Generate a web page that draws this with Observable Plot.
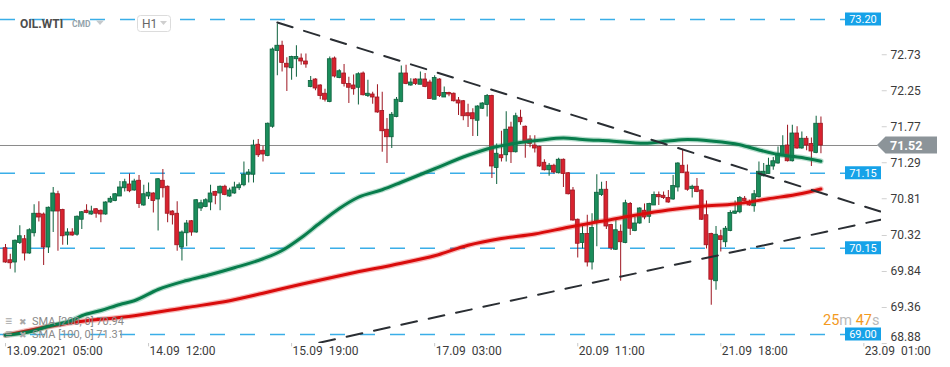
<!DOCTYPE html>
<html><head><meta charset="utf-8">
<script src="https://cdn.jsdelivr.net/npm/d3@7"></script>
<script src="https://cdn.jsdelivr.net/npm/@observablehq/plot@0.6"></script>
<style>
html,body{margin:0;padding:0;background:#fff;}
#chart{width:950px;height:367px;overflow:hidden;}
svg{font-family:Roboto,"Noto Sans",sans-serif;}
svg text{white-space:pre;}
</style></head><body><div id="chart"></div>
<script>
// ---- data ----
const symbolName = "OIL.WTI";
const symbolType = "CMD";
const interval = "H1";
const xTickIdx = [0, 30, 60, 90, 120, 150, 180];
const xTickLabels = ["13.09.2021  05:00", "14.09  12:00", "15.09  19:00", "17.09  03:00", "20.09  11:00", "21.09  18:00", "23.09  01:00"];
const yTicks = [72.73, 72.25, 71.77, 71.29, 70.81, 70.32, 69.84, 69.36, 68.88];

const opens = [70.15,69.99,69.96,70.22,70.27,70.08,70.35,70.61,70.60,70.16,
70.64,70.87,70.66,70.32,70.36,70.33,70.53,70.65,70.60,70.67,
70.65,70.60,70.76,70.78,70.84,70.95,71.00,70.92,71.05,70.72,
70.84,70.88,70.80,71.05,70.97,70.64,70.61,70.16,70.35,70.51,
70.36,70.68,70.70,70.76,70.90,70.88,70.97,70.84,70.88,70.95,
70.99,71.13,71.13,71.53,71.45,71.38,71.77,72.78,72.85,72.61,
72.55,72.67,72.68,72.64,72.30,72.40,72.32,72.21,72.10,72.68,
72.42,72.48,72.34,72.32,72.29,72.48,72.18,72.20,72.16,71.98,
71.73,71.63,71.90,72.10,72.48,72.32,72.40,72.33,72.40,72.36,
72.13,72.40,72.16,72.22,72.21,72.12,72.11,71.95,71.95,71.85,
72.01,72.06,72.18,71.22,71.39,71.39,71.76,71.43,71.89,71.77,
71.60,71.52,71.50,71.29,71.19,71.25,71.15,71.33,71.15,70.92,
70.53,70.22,70.34,69.96,70.51,70.86,70.93,70.46,70.13,70.37,
70.22,70.74,70.38,70.48,70.65,70.57,70.72,70.86,70.85,70.82,
70.80,70.96,71.25,71.16,70.94,70.97,70.92,70.59,70.34,69.71,
70.31,70.23,70.38,70.61,70.63,70.81,70.76,70.71,70.83,71.11,
71.14,71.24,71.28,71.39,71.52,71.31,71.68,71.48,71.61,71.54,
71.42,71.81];
const highs = [70.20,70.07,70.26,70.45,70.32,70.41,70.73,70.77,70.62,70.70,
70.96,70.91,70.67,70.41,70.41,70.58,70.64,70.73,70.71,70.68,
70.66,70.77,70.84,70.88,71.04,71.07,71.14,71.07,71.12,70.99,
71.02,70.89,71.08,71.20,70.98,70.65,70.77,70.38,70.52,70.52,
70.80,70.79,70.81,70.99,70.91,70.98,70.99,70.95,71.03,71.02,
71.30,71.20,71.59,71.60,71.51,71.82,72.82,73.14,72.91,72.69,
72.71,72.85,72.74,72.74,72.44,72.41,72.33,72.27,72.70,72.70,
72.53,72.60,72.43,72.46,72.49,72.50,72.39,72.23,72.33,72.23,
71.88,71.96,72.16,72.58,72.59,72.41,72.41,72.50,72.48,72.39,
72.45,72.41,72.30,72.23,72.22,72.16,72.12,72.07,72.01,72.05,
72.09,72.20,72.19,71.54,71.71,71.97,71.83,71.95,71.99,71.78,
71.65,71.65,71.51,71.33,71.28,71.27,71.35,71.34,71.16,70.96,
70.54,70.45,70.59,70.61,71.13,71.03,71.04,70.47,70.54,70.46,
70.79,70.76,70.56,70.69,70.74,70.75,70.90,70.90,70.90,70.92,
71.12,71.29,71.46,71.26,70.99,71.08,70.93,70.78,70.35,70.44,
70.39,70.44,70.65,70.78,70.84,70.84,70.79,70.92,71.30,71.28,
71.35,71.36,71.50,71.65,71.79,71.79,71.77,71.70,71.64,71.62,
71.91,71.90];
const lows = [69.95,69.87,69.82,70.20,69.98,70.07,70.30,70.50,69.92,70.08,
70.36,70.11,70.19,70.19,70.31,70.31,70.40,70.61,70.59,70.55,
70.49,70.59,70.75,70.77,70.84,70.90,70.89,70.91,70.68,70.71,
70.80,70.62,70.38,70.82,70.49,70.46,70.11,69.98,70.17,70.31,
70.35,70.64,70.69,70.65,70.73,70.65,70.85,70.83,70.87,70.92,
70.97,71.02,71.02,71.36,71.30,71.37,71.75,72.45,72.50,72.24,
72.39,72.43,72.59,72.55,72.29,72.25,72.13,72.10,72.09,72.42,
72.41,72.30,72.08,72.19,72.06,72.18,72.16,72.07,71.95,71.43,
71.28,71.48,71.89,72.09,72.33,72.31,72.32,72.33,72.29,72.14,
72.13,72.16,72.16,72.17,72.10,71.92,71.85,71.76,71.64,71.64,
72.00,71.90,71.08,71.00,71.30,71.30,71.28,71.42,71.79,71.35,
71.49,71.42,71.23,71.18,71.11,71.14,71.14,70.96,70.86,70.51,
70.02,70.14,69.90,69.86,70.17,70.84,70.40,70.12,70.12,69.71,
70.21,70.32,70.37,70.47,70.53,70.48,70.72,70.72,70.80,70.75,
70.79,70.90,71.15,70.91,70.82,70.89,70.52,70.14,69.39,69.59,
70.10,70.16,70.37,70.60,70.61,70.77,70.71,70.63,70.82,71.10,
71.14,71.19,71.27,71.38,71.30,71.30,71.47,71.47,71.45,71.24,
71.41,71.41];
const closes = [69.96,69.95,70.25,70.31,70.08,70.39,70.61,70.56,70.16,70.69,
70.88,70.64,70.31,70.36,70.32,70.57,70.63,70.62,70.64,70.61,
70.60,70.76,70.81,70.87,70.96,71.03,70.91,71.04,70.74,70.87,
70.89,70.78,71.07,70.95,70.61,70.59,70.19,70.36,70.48,70.36,
70.79,70.75,70.79,70.88,70.85,70.97,70.86,70.92,70.96,70.99,
71.13,71.16,71.52,71.39,71.40,71.81,72.80,72.85,72.62,72.56,
72.70,72.70,72.64,72.60,72.38,72.28,72.18,72.13,72.67,72.44,
72.51,72.34,72.29,72.27,72.47,72.19,72.21,72.16,71.96,71.71,
71.63,71.93,72.13,72.48,72.34,72.36,72.34,72.40,72.30,72.14,
72.42,72.18,72.22,72.20,72.11,72.08,71.91,71.91,71.87,72.04,
72.08,72.18,71.24,71.41,71.35,71.73,71.43,71.91,71.83,71.55,
71.54,71.48,71.24,71.19,71.25,71.16,71.33,71.14,70.87,70.52,
70.21,70.34,69.96,70.42,70.89,70.93,70.44,70.15,70.39,70.23,
70.75,70.41,70.48,70.68,70.56,70.74,70.86,70.83,70.82,70.76,
70.98,71.28,71.15,70.93,70.97,70.90,70.53,70.19,69.73,70.33,
70.26,70.41,70.62,70.64,70.82,70.78,70.72,70.87,71.17,71.17,
71.25,71.31,71.41,71.51,71.31,71.68,71.48,71.61,71.52,71.44,
71.81,71.52];

const sma100Idx = [0,6,9,14,16,20,24,27,32,38,43,48,54,58,62,66,70,74,79,83,90,97,102,107,112,117,121,127,134,139,143,148,154,158,162,167,171];
const sma100Val = [68.99,69.05,69.11,69.19,69.25,69.32,69.40,69.45,69.60,69.72,69.80,69.89,70.01,70.12,70.29,70.49,70.68,70.83,70.93,71.03,71.21,71.39,71.49,71.55,71.59,71.62,71.60,71.58,71.55,71.58,71.60,71.58,71.53,71.46,71.40,71.36,71.31];
const sma200Idx = [0,13,27,38,47,54,62,72,83,90,97,104,111,118,125,132,139,146,153,160,167,171];
const sma200Val = [68.99,69.15,69.25,69.36,69.45,69.55,69.67,69.81,69.95,70.05,70.19,70.28,70.34,70.43,70.51,70.59,70.66,70.71,70.74,70.81,70.88,70.94];

const trendDownIdx = [57, 183.5];
const trendDownVal = [73.16, 70.64];
const trendUpIdx = [65.8, 183.5];
const trendUpVal = [68.89, 70.53];

const levels = [73.20, 71.15, 70.15, 69.00];
const lastPrice = 71.52;
const legendLabels = ["SMA [200, 0] 70.94", "SMA [100, 0] 71.31"];
const countdown = ["25", "m", " 47", "s"];

// ---- build ----
const candles = opens.map((o, i) => ({i, o, h: highs[i], l: lows[i], c: closes[i], up: closes[i] >= o}));
const sma100 = sma100Idx.map((i, k) => ({i, v: sma100Val[k]}));
const sma200 = sma200Idx.map((i, k) => ({i, v: sma200Val[k]}));
const trendDown = trendDownIdx.map((i, k) => ({i, v: trendDownVal[k]}));
const trendUp = trendUpIdx.map((i, k) => ({i, v: trendUpVal[k]}));
const xDom = [-1.05, 183.7];
const yDom = [68.88, 73.4533];

const GREEN_F = "#1a8d5b", GREEN_S = "#0c603c", RED_F = "#d8232f", RED_S = "#9e1621";

const chart = Plot.plot({
  width: 950, height: 367,
  marginLeft: 0, marginRight: 69, marginTop: 0, marginBottom: 24,
  x: {domain: xDom, axis: null},
  y: {domain: yDom, axis: null},
  style: {background: "#fff", fontFamily: "Roboto, sans-serif", overflow: "visible"},
  marks: [
    Plot.ruleY(levels, {y: d => d, x1: xDom[0], x2: 176.2, stroke: "#3aaee8", strokeWidth: 1.5, strokeDasharray: "15,15"}),
    Plot.ruleY([lastPrice], {y: d => d, x1: xDom[0], x2: 183.0, stroke: "#8a8a8a", strokeWidth: 1}),
    Plot.ruleX(candles, {x: "i", y1: "l", y2: "h", stroke: d => d.up ? GREEN_S : RED_S, strokeWidth: 1}),
    Plot.rect(candles, {x1: d => d.i - 0.4, x2: d => d.i + 0.4, y1: d => Math.min(d.o, d.c), y2: d => Math.max(d.o, d.c),
      fill: d => d.up ? GREEN_F : RED_F, stroke: d => d.up ? GREEN_S : RED_S, strokeWidth: 0.8}),
    Plot.line(sma200, {x: "i", y: "v", stroke: "#e31b1b", strokeOpacity: 0.3, strokeWidth: 5.5, curve: "monotone-x"}),
    Plot.line(sma200, {x: "i", y: "v", stroke: "#d90c0c", strokeWidth: 3, curve: "monotone-x"}),
    Plot.line(sma100, {x: "i", y: "v", stroke: "#0f8f5a", strokeOpacity: 0.3, strokeWidth: 5.5, curve: "monotone-x"}),
    Plot.line(sma100, {x: "i", y: "v", stroke: "#087d4c", strokeWidth: 3, curve: "monotone-x"}),
    Plot.line(trendDown, {x: "i", y: "v", stroke: "#2a2e33", strokeWidth: 2, strokeDasharray: "16,12", clip: true}),
    Plot.line(trendUp, {x: "i", y: "v", stroke: "#2a2e33", strokeWidth: 2, strokeDasharray: "16,12", clip: true}),
    // x axis
    Plot.ruleX(xTickIdx, {x: d => d, y1: yDom[0], y2: yDom[0] - 0.045, stroke: "#c8c8c8"}),
    Plot.text(xTickIdx, {x: d => d, y: yDom[0], text: (d, k) => xTickLabels[k], textAnchor: "start", dx: 1, dy: 8, fontSize: 12, fill: "#3b3b3b"}),
    // y axis
    Plot.ruleY(yTicks, {y: d => d, x1: xDom[1] + 0.15, x2: xDom[1] + 1.2, stroke: "#d0d0d0"}),
    Plot.text(yTicks.slice(0, -1), {x: xDom[1], y: d => d, text: d => d.toFixed(2), textAnchor: "start", dx: 9, fontSize: 12, fill: "#3b3b3b"}),
    Plot.text(yTicks.slice(-1), {x: xDom[1], y: d => d, text: d => d.toFixed(2), textAnchor: "start", dx: 9, dy: -6, fontSize: 12, fill: "#3b3b3b"})
  ]
});
document.getElementById("chart").appendChild(chart);

const ys = chart.scale("y");
const yf = v => ys.apply(v);
const svg = d3.select(chart);
const ov = svg.append("g").attr("font-family", "Roboto, sans-serif").attr("text-anchor", "start");

// level labels
levels.forEach(v => {
  ov.append("rect").attr("x", 845).attr("y", yf(v) - 6.5).attr("width", 36).attr("height", 13).attr("fill", "#16a2e8");
  ov.append("text").attr("x", 863).attr("y", yf(v) + 0.5).attr("text-anchor", "middle").attr("dominant-baseline", "central")
    .attr("font-size", 11).attr("fill", "#fff").text(v.toFixed(2));
});
// last price label
const py = yf(lastPrice);
ov.append("path").attr("d", `M877,${py} L885.5,${py - 8.5} L937,${py - 8.5} L937,${py + 8.5} L885.5,${py + 8.5} Z`).attr("fill", "#8c9499");
ov.append("text").attr("x", 890).attr("y", py + 0.5).attr("text-anchor", "start").attr("dominant-baseline", "central").attr("font-size", 12.5)
  .attr("font-weight", 700).attr("fill", "#fff").text(lastPrice.toFixed(2));

// header
ov.append("text").attr("x", 20).attr("y", 27.5).attr("font-size", 12).attr("font-weight", 700).attr("fill", "#4d4d4d").text(symbolName);
ov.append("text").attr("x", 72).attr("y", 27).attr("font-size", 8.5).attr("font-weight", 700).attr("fill", "#93a3ab").text(symbolType);
ov.append("path").attr("d", "M96,20.5 L104,20.5 L100,25 Z").attr("fill", "#c5c9cc");
ov.append("rect").attr("x", 137.5).attr("y", 15.5).attr("width", 33).attr("height", 16).attr("rx", 3).attr("fill", "#fff").attr("stroke", "#dcdcdc");
ov.append("text").attr("x", 142).attr("y", 27.5).attr("font-size", 12).attr("fill", "#666").text(interval);
ov.append("path").attr("d", "M160,21 L167,21 L163.5,25 Z").attr("fill", "#cfcfcf");

// legend
legendLabels.forEach((t, k) => {
  const by = 324.5 + k * 13.5;
  ov.append("text").attr("x", 5).attr("y", by).attr("font-size", 12).attr("fill", "#a8a8a8").text("\u2261");
  ov.append("text").attr("x", 19).attr("y", by).attr("font-size", 9).attr("fill", "#a8a8a8").text("\u2716");
  ov.append("text").attr("x", 32).attr("y", by).attr("font-size", 11).attr("fill", "#8a8a8a").text(t);
});

// countdown
const cd = ov.append("text").attr("x", 823).attr("y", 325).attr("font-size", 14.5);
cd.append("tspan").attr("fill", "#f39a1e").text(countdown[0]);
cd.append("tspan").attr("fill", "#b9b9b9").text(countdown[1]);
cd.append("tspan").attr("fill", "#f39a1e").text(countdown[2]);
cd.append("tspan").attr("fill", "#b9b9b9").text(countdown[3]);
</script></body></html>
